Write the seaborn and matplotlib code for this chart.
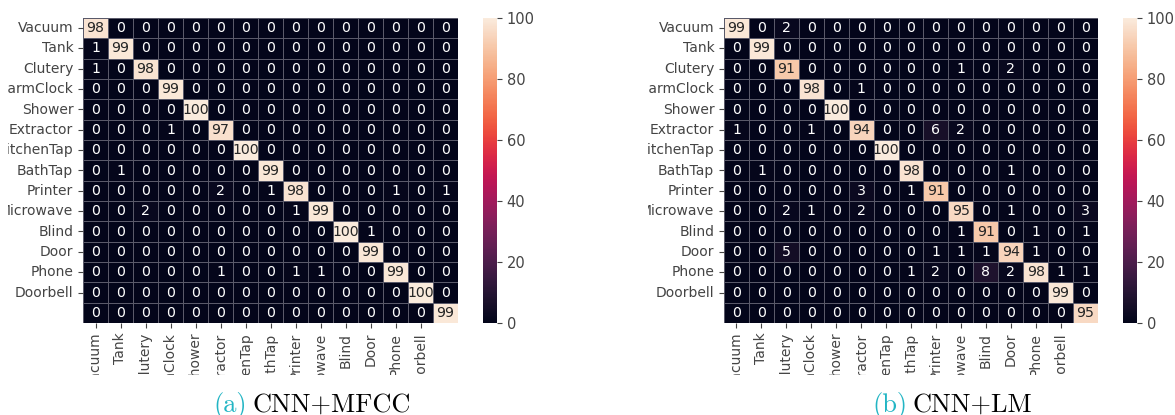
import numpy as np
import matplotlib
matplotlib.use("Agg")
import matplotlib.pyplot as plt
from matplotlib.patches import Rectangle
import seaborn as sns

labels = ["Vacuum", "Tank", "Clutery", "AlarmClock", "Shower", "Extractor",
          "KitchenTap", "BathTap", "Printer", "Microwave", "Blind", "Door",
          "Phone", "Doorbell"]

cm_mfcc = [
    [98, 0, 0, 0, 0, 0, 0, 0, 0, 0, 0, 0, 0, 0, 0],
    [1, 99, 0, 0, 0, 0, 0, 0, 0, 0, 0, 0, 0, 0, 0],
    [1, 0, 98, 0, 0, 0, 0, 0, 0, 0, 0, 0, 0, 0, 0],
    [0, 0, 0, 99, 0, 0, 0, 0, 0, 0, 0, 0, 0, 0, 0],
    [0, 0, 0, 0, 100, 0, 0, 0, 0, 0, 0, 0, 0, 0, 0],
    [0, 0, 0, 1, 0, 97, 0, 0, 0, 0, 0, 0, 0, 0, 0],
    [0, 0, 0, 0, 0, 0, 100, 0, 0, 0, 0, 0, 0, 0, 0],
    [0, 1, 0, 0, 0, 0, 0, 99, 0, 0, 0, 0, 0, 0, 0],
    [0, 0, 0, 0, 0, 2, 0, 1, 98, 0, 0, 0, 1, 0, 1],
    [0, 0, 2, 0, 0, 0, 0, 0, 1, 99, 0, 0, 0, 0, 0],
    [0, 0, 0, 0, 0, 0, 0, 0, 0, 0, 100, 1, 0, 0, 0],
    [0, 0, 0, 0, 0, 0, 0, 0, 0, 0, 0, 99, 0, 0, 0],
    [0, 0, 0, 0, 0, 1, 0, 0, 1, 1, 0, 0, 99, 0, 0],
    [0, 0, 0, 0, 0, 0, 0, 0, 0, 0, 0, 0, 0, 100, 0],
    [0, 0, 0, 0, 0, 0, 0, 0, 0, 0, 0, 0, 0, 0, 99],
]

cm_lm = [
    [99, 0, 2, 0, 0, 0, 0, 0, 0, 0, 0, 0, 0, 0, 0],
    [0, 99, 0, 0, 0, 0, 0, 0, 0, 0, 0, 0, 0, 0, 0],
    [0, 0, 91, 0, 0, 0, 0, 0, 0, 1, 0, 2, 0, 0, 0],
    [0, 0, 0, 98, 0, 1, 0, 0, 0, 0, 0, 0, 0, 0, 0],
    [0, 0, 0, 0, 100, 0, 0, 0, 0, 0, 0, 0, 0, 0, 0],
    [1, 0, 0, 1, 0, 94, 0, 0, 6, 2, 0, 0, 0, 0, 0],
    [0, 0, 0, 0, 0, 0, 100, 0, 0, 0, 0, 0, 0, 0, 0],
    [0, 1, 0, 0, 0, 0, 0, 98, 0, 0, 0, 1, 0, 0, 0],
    [0, 0, 0, 0, 0, 3, 0, 1, 91, 0, 0, 0, 0, 0, 0],
    [0, 0, 2, 1, 0, 2, 0, 0, 0, 95, 0, 1, 0, 0, 3],
    [0, 0, 0, 0, 0, 0, 0, 0, 0, 1, 91, 0, 1, 0, 1],
    [0, 0, 5, 0, 0, 0, 0, 0, 1, 1, 1, 94, 1, 0, 0],
    [0, 0, 0, 0, 0, 0, 0, 1, 2, 0, 8, 2, 98, 1, 1],
    [0, 0, 0, 0, 0, 0, 0, 0, 0, 0, 0, 0, 0, 99, 0],
    [0, 0, 0, 0, 0, 0, 0, 0, 0, 0, 0, 0, 0, 0, 95],
]

captions = [("(a)", "CNN+MFCC"), ("(b)", "CNN+LM")]

W, H = 1175, 415
fig = plt.figure(figsize=(W / 100, H / 100), dpi=100)

def fx(px):
    return px / W

def fy(py):
    return 1 - py / H

txt_col = "#444444"
layouts = [
    dict(ax=(83, 458), cb=(483, 497), cap=(213, 253)),
    dict(ax=(724, 1098), cb=(1123, 1137), cap=(872, 913)),
]
top, bot = 18, 323

for data, lay in zip([cm_mfcc, cm_lm], layouts):
    x0, x1 = lay["ax"]
    ax = fig.add_axes([fx(x0), fy(bot), fx(x1 - x0), (bot - top) / H])
    c0, c1 = lay["cb"]
    cax = fig.add_axes([fx(c0), fy(bot), fx(c1 - c0), (bot - top) / H])
    sns.heatmap(np.array(data), ax=ax, cbar_ax=cax, cmap="rocket", vmin=0, vmax=100,
                annot=True, fmt="d", annot_kws={"size": 10.2},
                linewidths=0.5, linecolor="#5a5a6a")
    ax.set_xticks(np.arange(len(labels)) + 0.5)
    ax.set_xticklabels(labels, rotation=90, fontsize=10)
    ax.set_yticks(np.arange(len(labels)) + 0.5)
    ax.set_yticklabels(labels, rotation=0, fontsize=10)
    ax.tick_params(colors=txt_col, labelcolor=txt_col, length=3.5, width=0.8)
    cax.set_yticks([0, 20, 40, 60, 80, 100])
    cax.tick_params(labelsize=10.5, colors=txt_col, labelcolor=txt_col,
                    length=3.5, width=0.8)

# white band clipping the rotated labels
fig.add_artist(Rectangle((0, 0), 1, fy(375), transform=fig.transFigure,
                         facecolor="white", edgecolor="none", zorder=50))
# left crop edges of each panel's row labels
for (a, b) in [(0, 8), (540, 648)]:
    fig.add_artist(Rectangle((fx(a), 0), fx(b - a), 1, transform=fig.transFigure,
                             facecolor="white", edgecolor="none", zorder=50))

for lay, (tag, name) in zip(layouts, captions):
    l, r = lay["cap"]
    fig.text(fx(l), fy(412), tag, ha="left", va="baseline", fontsize=19,
             family="cmr10", color="#22b5c4", zorder=60)
    fig.text(fx(r), fy(412), name, ha="left", va="baseline", fontsize=19,
             family="cmr10", color="black", zorder=60)

fig.savefig("out.png", dpi=100)
